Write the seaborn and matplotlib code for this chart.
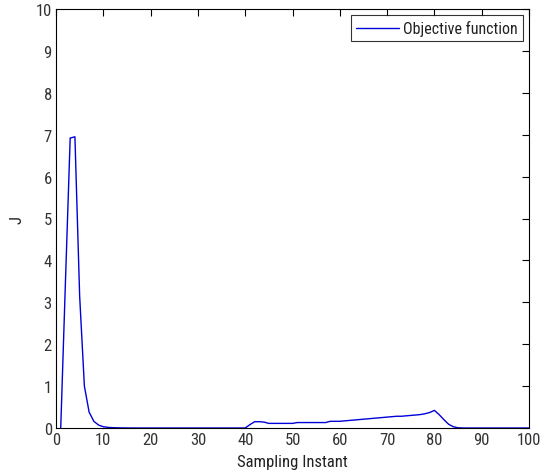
import numpy as np
import pandas as pd
import matplotlib
matplotlib.use("Agg")
import matplotlib.pyplot as plt
from matplotlib import font_manager
import seaborn as sns

# Sampling instants 1..100 and the objective function J at each instant
sampling_instant = list(range(1, 101))

j_start = [0.0, 3.5, 6.92, 6.95, 3.15, 1.0, 0.38, 0.16, 0.07, 0.03,
           0.015, 0.008, 0.004, 0.002, 0.001]
j_idle = [0.0] * 25                     # instants 16..40
j_mid = [0.08, 0.15, 0.15, 0.14, 0.11, 0.11, 0.11, 0.11, 0.11, 0.11,   # 41..50
         0.13, 0.13, 0.13, 0.13, 0.13, 0.13, 0.13, 0.16, 0.16, 0.16,   # 51..60
         0.17, 0.18, 0.19, 0.20, 0.21, 0.22, 0.23, 0.24, 0.25, 0.26,   # 61..70
         0.27, 0.28, 0.28, 0.29, 0.30, 0.31, 0.32, 0.34, 0.37, 0.42,   # 71..80
         0.32, 0.20, 0.09, 0.03, 0.005]                                # 81..85
j_end = [0.0] * 15                      # instants 86..100

objective = j_start + j_idle + j_mid + j_end

x_ticks = [0, 10, 20, 30, 40, 50, 60, 70, 80, 90, 100]
y_ticks = [0, 1, 2, 3, 4, 5, 6, 7, 8, 9, 10]

df = pd.DataFrame({"Sampling Instant": sampling_instant, "J": objective})

sns.set_theme(style="white")

# prefer a condensed sans face when one is installed
names = {f.name for f in font_manager.fontManager.ttflist}
condensed = [n for n in ("Liberation Sans Narrow", "DejaVu Sans Condensed",
                         "Roboto Condensed", "Open Sans Condensed") if n in names]
plt.rcParams["font.family"] = condensed + ["Liberation Sans", "DejaVu Sans"]
plt.rcParams["font.stretch"] = "condensed"
plt.rcParams["xtick.direction"] = "in"
plt.rcParams["ytick.direction"] = "in"
fsize = 12 if condensed else 10.5

fig = plt.figure(figsize=(5.45, 4.77), dpi=100)
ax = fig.add_axes([56 / 545, 1 - 429 / 477, (529 - 56) / 545, (429 - 10) / 477])

sns.lineplot(data=df, x="Sampling Instant", y="J", ax=ax, color="#0000d8",
             linewidth=1.0, label="Objective function")

ax.set_xlim(0, 100)
ax.set_ylim(0, 10)
ax.set_xticks(x_ticks)
ax.set_yticks(y_ticks)
ax.tick_params(axis="both", which="major", direction="in", length=5, width=0.8,
               top=True, right=True, labelsize=fsize, colors="black", pad=3,
               labelcolor="#333333")
for s in ax.spines.values():
    s.set_color("black")
    s.set_linewidth(0.8)
    s.set_visible(True)

ax.set_xlabel("Sampling Instant", fontsize=fsize, color="#222222", labelpad=5)
ax.set_ylabel("J", fontsize=fsize, color="#222222", labelpad=8)

leg = ax.legend(loc="upper right", fontsize=fsize - 0.5, frameon=True,
                fancybox=False, handlelength=2.7, handletextpad=0.25,
                borderpad=0.3, borderaxespad=0.4)
leg.get_frame().set_edgecolor("black")
leg.get_frame().set_linewidth(0.8)
for t in leg.get_texts():
    t.set_color("#222222")

fig.savefig("out.png", dpi=100, facecolor="white")
